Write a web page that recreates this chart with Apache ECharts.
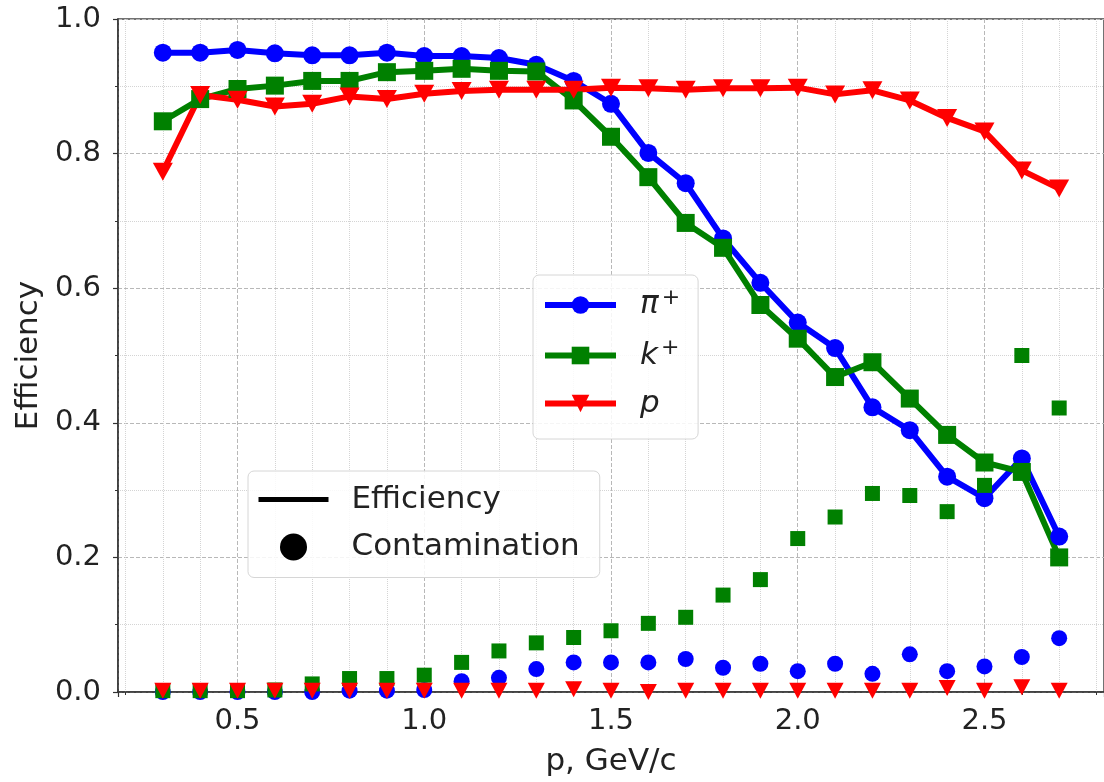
<!DOCTYPE html>
<html><head><meta charset="utf-8">
<script src="https://cdn.jsdelivr.net/npm/echarts@6/dist/echarts.min.js"></script>
<style>html,body{margin:0;padding:0;background:#fff}#c{width:1104px;height:782px}</style>
</head><body><div id="c"></div>
<script>
const momentum = [0.3,0.4,0.5,0.6,0.7,0.8,0.9,1.0,1.1,1.2,1.3,1.4,1.5,1.6,1.7,1.8,1.9,2.0,2.1,2.2,2.3,2.4,2.5,2.6,2.7];
const piEff = [0.950,0.950,0.954,0.949,0.946,0.946,0.950,0.945,0.945,0.942,0.932,0.908,0.874,0.801,0.756,0.674,0.608,0.549,0.511,0.423,0.389,0.320,0.288,0.347,0.231];
const kEff  = [0.848,0.881,0.896,0.901,0.908,0.908,0.921,0.923,0.926,0.923,0.922,0.879,0.825,0.765,0.697,0.660,0.575,0.525,0.468,0.490,0.436,0.382,0.341,0.327,0.200];
const pEff  = [0.773,0.887,0.880,0.870,0.874,0.885,0.881,0.889,0.893,0.895,0.895,0.895,0.898,0.897,0.895,0.897,0.897,0.898,0.888,0.894,0.879,0.853,0.833,0.775,0.748];
const piCont = [0.000,0.000,0.000,0.000,0.000,0.002,0.002,0.003,0.016,0.021,0.034,0.044,0.044,0.044,0.049,0.036,0.042,0.031,0.042,0.027,0.056,0.031,0.038,0.052,0.080];
const kCont  = [0.002,0.002,0.002,0.003,0.012,0.020,0.020,0.025,0.044,0.061,0.073,0.081,0.091,0.102,0.111,0.144,0.167,0.228,0.260,0.295,0.292,0.268,0.307,0.500,0.422];
const pCont  = [0.002,0.002,0.002,0.002,0.002,0.002,0.002,0.002,0.002,0.002,0.002,0.004,0.002,0.000,0.002,0.002,0.002,0.002,0.002,0.002,0.002,0.006,0.002,0.007,0.002];

const FONT = 'DejaVu Sans';
const BLUE = '#0000ff', GREEN = '#008000', RED = '#ff0000';
const pairs = ys => momentum.map((x, i) => [x, ys[i]]);

const chart = echarts.init(document.getElementById('c'), null, {renderer: 'canvas'});

const effSeries = (name, ys, color, symbol, size, rot) => ({
  name, type: 'line', data: pairs(ys), symbol, symbolSize: size, symbolRotate: rot || 0,
  showSymbol: true, lineStyle: {width: 6, color}, itemStyle: {color, opacity: 1}, z: 3,
  emphasis: {disabled: true}
});
const contSeries = (name, ys, color, symbol, size, rot) => ({
  name, type: 'scatter', data: pairs(ys), symbol, symbolSize: size, symbolRotate: rot || 0,
  itemStyle: {color, opacity: 1}, z: 3, emphasis: {disabled: true}
});

const option = {
  animation: false,
  backgroundColor: '#fff',
  grid: {left: 118, right: -4, top: 19, bottom: 87, show: true, borderColor: '#444', borderWidth: 1.5},
  xAxis: {
    type: 'value', min: 0.18, max: 2.82,
    axisLine: {show: true, onZero: false, lineStyle: {color: '#333', width: 1.5}},
    axisTick: {show: true, length: 5, lineStyle: {color: '#333', width: 1.2}},
    minorTick: {show: true, splitNumber: 5, length: 3, lineStyle: {color: '#333', width: 1}},
    splitLine: {show: true, lineStyle: {type: 'dashed', color: '#b8b8b8', width: 1}},
    minorSplitLine: {show: true, lineStyle: {type: 'dotted', color: '#d4d4d4', width: 1}},
    axisLabel: {showMinLabel: false, showMaxLabel: false, fontFamily: FONT, fontSize: 29, color: '#222', margin: 15,
      formatter: v => v.toFixed(1)},
    name: 'p, GeV/c', nameLocation: 'middle', nameGap: 54,
    nameTextStyle: {fontFamily: FONT, fontSize: 31, color: '#222'}
  },
  yAxis: {
    type: 'value', min: 0, max: 1, interval: 0.2,
    axisLine: {show: true, onZero: false, lineStyle: {color: '#333', width: 1.5}},
    axisTick: {show: true, length: 5, lineStyle: {color: '#333', width: 1.2}},
    minorTick: {show: true, splitNumber: 2, length: 3, lineStyle: {color: '#333', width: 1}},
    splitLine: {show: true, lineStyle: {type: 'dashed', color: '#b8b8b8', width: 1}},
    minorSplitLine: {show: true, lineStyle: {type: 'dotted', color: '#d4d4d4', width: 1}},
    axisLabel: {fontFamily: FONT, fontSize: 29, color: '#222', margin: 17, formatter: v => v.toFixed(1)},
    name: 'Efficiency', nameLocation: 'middle', nameGap: 73,
    nameTextStyle: {fontFamily: FONT, fontSize: 31, color: '#222'}
  },
  legend: [
    {
      orient: 'vertical', left: 533, top: 275,
      data: ['π⁺', 'k⁺', 'p'],
      itemWidth: 71, itemHeight: 22, itemGap: 17,
      padding: [12, 18, 20, 9],
      lineStyle: {width: 6},
      backgroundColor: 'rgba(255,255,255,0.85)', borderColor: '#d6d6d6', borderWidth: 1, borderRadius: 6,
      selectedMode: false,
      formatter: name => {
        if (name === 'π⁺') return '{g|}{m|π}{s|+}';
        if (name === 'k⁺') return '{g|}{m|k}{s|+}';
        return '{g|}{m|p}';
      },
      textStyle: {
        fontFamily: FONT, fontSize: 31, color: '#222',
        rich: {
          g: {width: 19, lineHeight: 36},
          m: {fontFamily: FONT, fontSize: 31, fontStyle: 'italic', color: '#222', lineHeight: 36},
          s: {fontFamily: FONT, fontSize: 22, color: '#222', lineHeight: 16, verticalAlign: 'top', padding: [0, 0, 0, 3]}
        }
      }
    },
    {
      orient: 'vertical', left: 248, top: 471,
      data: [{name: 'Efficiency', itemStyle: {opacity: 0}}, 'Contamination'],
      itemWidth: 70, itemHeight: 27, itemGap: 16.5,
      padding: [13, 20, 15, 8],
      lineStyle: {width: 5},
      backgroundColor: 'rgba(255,255,255,0.85)', borderColor: '#d6d6d6', borderWidth: 1, borderRadius: 6,
      selectedMode: false,
      formatter: name => '{g|}{t|' + name + '}',
      textStyle: {
        fontFamily: FONT, fontSize: 31, color: '#222',
        rich: {
          g: {width: 18, lineHeight: 36},
          t: {fontFamily: FONT, fontSize: 31, color: '#222', lineHeight: 36}
        }
      }
    }
  ],
  series: [
    effSeries('π⁺', piEff, BLUE, 'circle', 18),
    contSeries('π⁺ contamination', piCont, BLUE, 'circle', 16),
    effSeries('k⁺', kEff, GREEN, 'rect', 18),
    contSeries('k⁺ contamination', kCont, GREEN, 'rect', 15),
    effSeries('p', pEff, RED, 'triangle', [20, 18], 180),
    contSeries('p contamination', pCont, RED, 'triangle', [17, 16], 180),
    {name: 'Efficiency', type: 'line', data: [], symbol: 'none', lineStyle: {width: 5, color: '#000'}, itemStyle: {color: '#000', opacity: 1}},
    {name: 'Contamination', type: 'scatter', data: [], symbol: 'circle', itemStyle: {color: '#000', opacity: 1}}
  ]
};
chart.setOption(option);
</script>
</body></html>
